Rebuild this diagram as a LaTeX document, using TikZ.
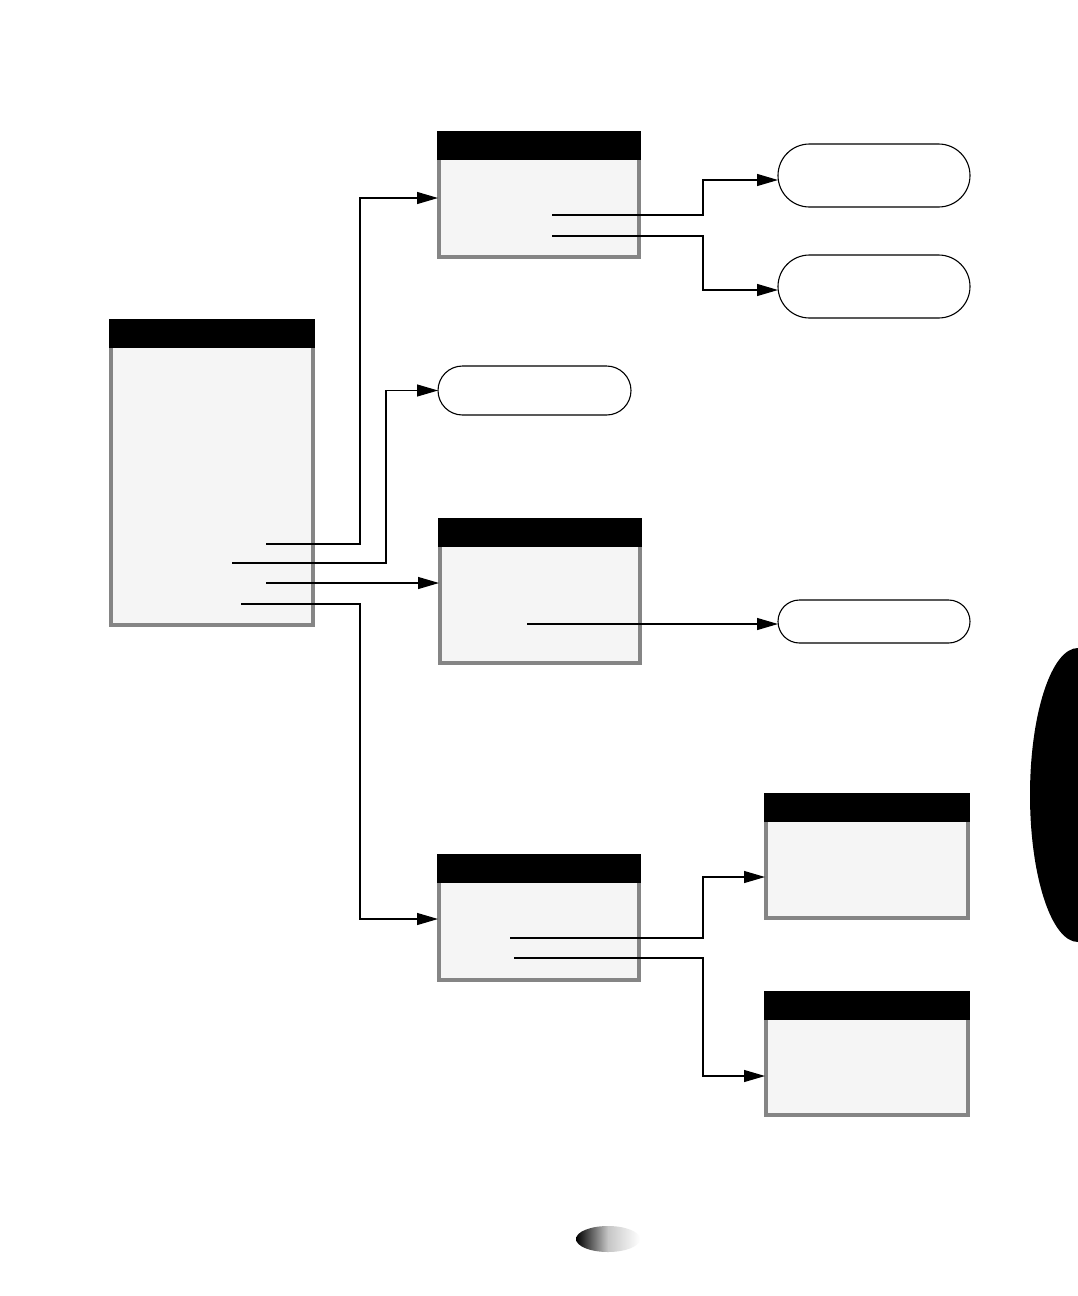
\documentclass[tikz,border=0pt]{standalone}
\usetikzlibrary{arrows.meta}
\definecolor{bodyfill}{HTML}{F5F5F5}
\definecolor{bordergray}{HTML}{858585}
\tikzset{
  win/.style={rectangle, fill=bodyfill, draw=bordergray, line width=3.5pt, inner sep=0pt, outer sep=0pt, anchor=north west},
  hdr/.style={fill=black},
  pill/.style={rectangle, draw=black, fill=white, line width=1.1pt, inner sep=0pt, outer sep=0pt, anchor=north west},
  conn/.style={draw=black, line width=1.2pt, -{Triangle[length=21pt,width=12pt]}},
}
\begin{document}
\begin{tikzpicture}[x=1pt,y=-1pt]
\useasboundingbox[fill=white] (0,0) rectangle (1078,1296);

% windows
\node[win, minimum width=202pt, minimum height=304pt] (A) at (111,321) {};
\node[win, minimum width=200pt, minimum height=124pt] (B) at (439,133) {};
\node[win, minimum width=200pt, minimum height=143pt] (C) at (440,520) {};
\node[win, minimum width=200pt, minimum height=124pt] (D) at (439,856) {};
\node[win, minimum width=202pt, minimum height=123pt] (E) at (766,795) {};
\node[win, minimum width=202pt, minimum height=122pt] (F) at (766,993) {};
\foreach \w in {A,B,C,D,E,F}{
  \fill[hdr] ([shift={(-2pt,2pt)}]\w.north west) rectangle ([shift={(2pt,-27pt)}]\w.north east);
}

% pills
\node[pill, minimum width=192pt, minimum height=63pt, rounded corners=31.5pt] (R1) at (778,144) {};
\node[pill, minimum width=192pt, minimum height=63pt, rounded corners=31.5pt] (R2) at (778,255) {};
\node[pill, minimum width=193pt, minimum height=49pt, rounded corners=24.5pt] (R3) at (438,366) {};
\node[pill, minimum width=192pt, minimum height=43pt, rounded corners=21.5pt] (R4) at (778,600) {};

% connector starts
\coordinate (a1) at (266,544);
\coordinate (a2) at (232,563);
\coordinate (a3) at (266,583);
\coordinate (a4) at (241,604);
\coordinate (b1) at (552,215);
\coordinate (b2) at (552,236);
\coordinate (c1) at (527,624);
\coordinate (d1) at (510,938);
\coordinate (d2) at (514,958);

\draw[conn, shorten >=1pt] (a1) -- ++(94,0) |- ([yshift=-3pt]B.west);
\draw[conn] (a2) -- ++(154,0) |- (R3.west);
\draw[conn, shorten >=1pt] (a3) -- (a3 -| C.west);
\draw[conn, shorten >=1pt] (a4) -- ++(119,0) |- ([yshift=-1pt]D.west);
\draw[conn] (b1) -- ++(151,0) |- ([yshift=-4.5pt]R1.west);
\draw[conn] (b2) -- ++(151,0) |- ([yshift=-3.5pt]R2.west);
\draw[conn] (c1) -- (c1 -| R4.west);
\draw[conn, shorten >=1pt] (d1) -- ++(193,0) |- ([yshift=-20.5pt]E.west);
\draw[conn, shorten >=1pt] (d2) -- ++(189,0) |- ([yshift=-22pt]F.west);

% side tab
\begin{scope}
  \clip (1000,600) rectangle (1078,1000);
  \fill[black] (1078,795) ellipse [x radius=48, y radius=147];
\end{scope}

% page number blob
\shade[left color=black, right color=white, middle color=gray!45] (608,1239) ellipse [x radius=32, y radius=13];
\end{tikzpicture}
\end{document}
